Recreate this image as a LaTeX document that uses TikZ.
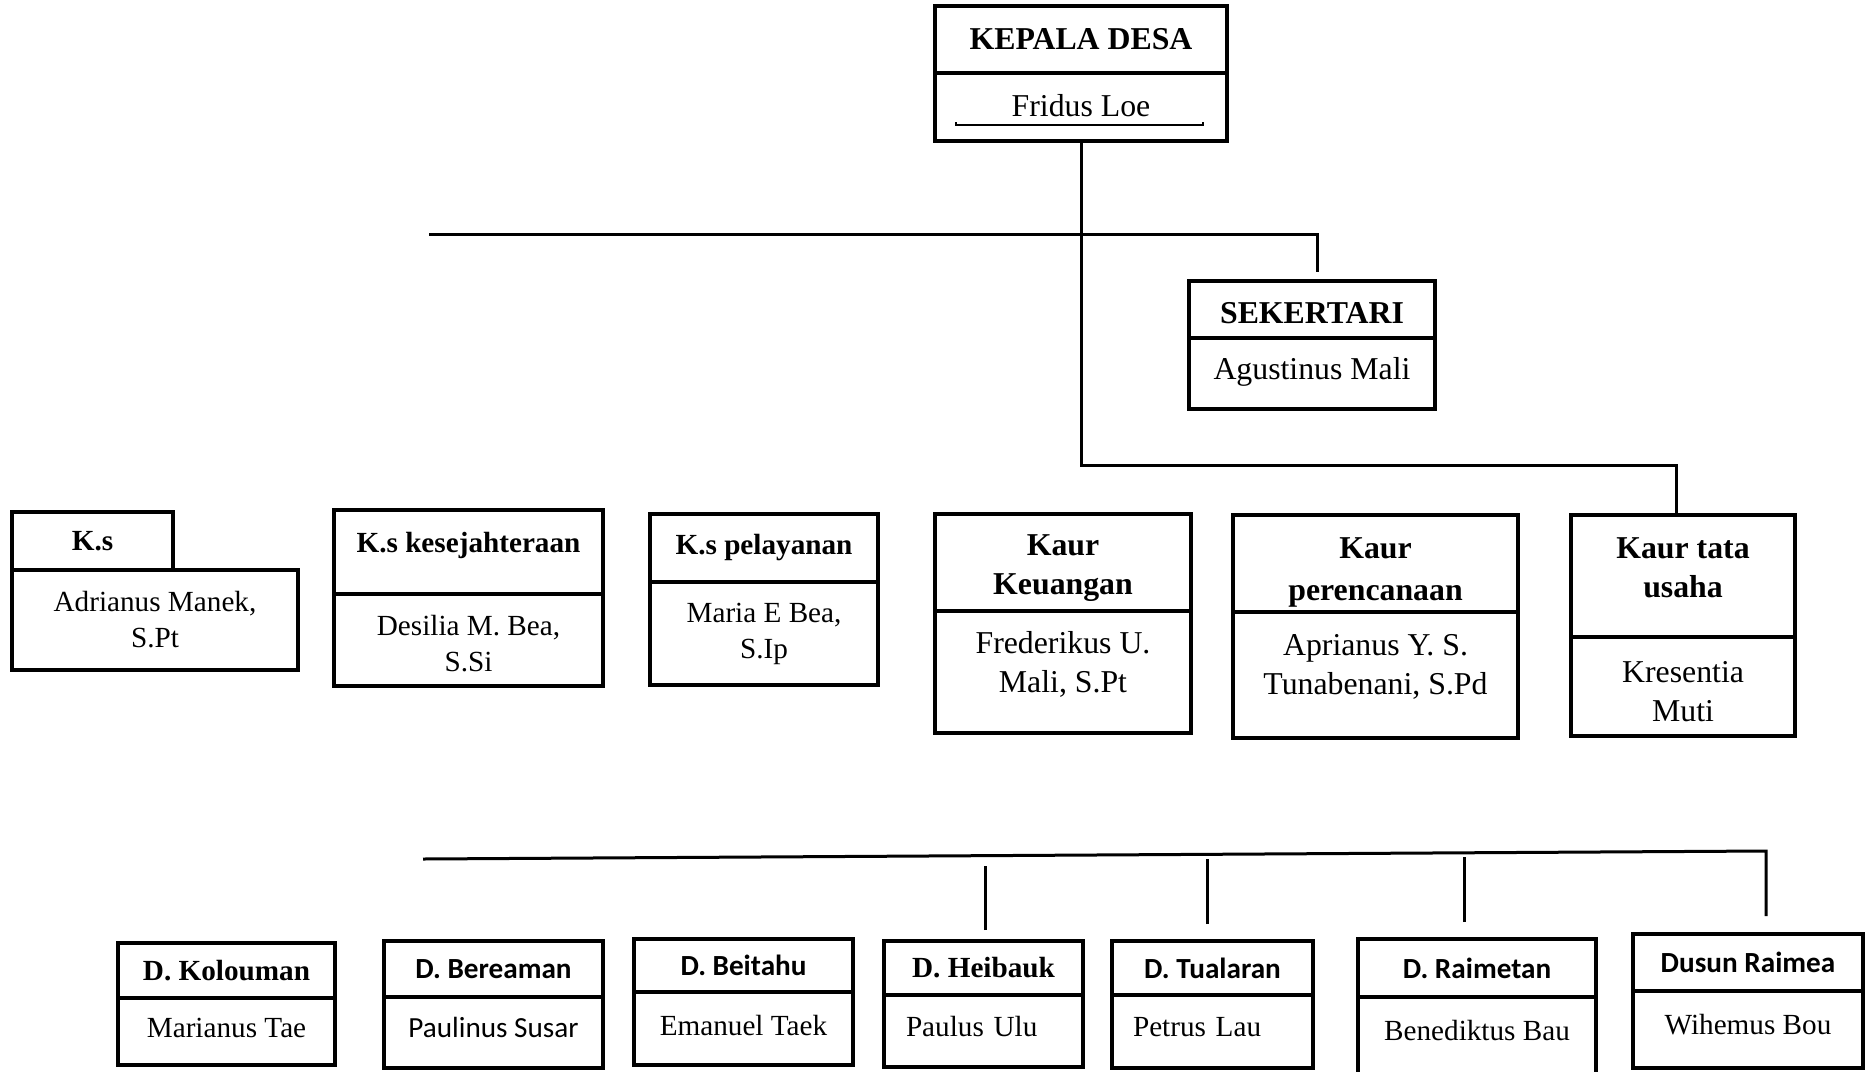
\documentclass[tikz,border=0pt]{standalone}
\usepackage{fontspec}
\setmainfont{Liberation Serif}
\newfontfamily\calibri{Carlito}
\newcommand{\bigtxt}{\fontsize{31.8}{39}\selectfont}
\newcommand{\smalltxt}{\fontsize{29.2}{36}\selectfont}
% invisible struts to move text up (lift) or down (drop) in a cell
\newcommand{\lift}[1]{\rule[-#1pt]{0pt}{#1pt}}
\newcommand{\drop}[1]{\rule{0pt}{#1pt}}
\tikzset{
  cell/.style={draw, line width=3.5pt, anchor=north west, inner sep=0pt, outer sep=0pt, align=center},
  bighead/.style={cell, font=\bigtxt\bfseries},
  bigname/.style={cell, font=\bigtxt},
  smallhead/.style={cell, font=\smalltxt\bfseries},
  sanshead/.style={cell, font=\smalltxt\calibri\bfseries},
  smallname/.style={cell, font=\smalltxt},
  link/.style={line width=3pt}
}
\begin{document}
\begin{tikzpicture}[x=1pt, y=-1pt]
    \useasboundingbox (0,0) rectangle (1870,1071);

    % kepala desa and sekertari
    \node[bighead, minimum width=292, minimum height=67] (kdT) at (935,6) {KEPALA DESA};
    \node[bigname, minimum width=292, minimum height=68] (kdB) at (kdT.south west) {Fridus Loe\lift{4}};
    \draw[line width=1.5pt] ([shift={(21pt,19pt)}]kdB.south west) -- ++(0pt,-3pt) -- ++(247pt,0pt) -- ++(0pt,3pt);

    \node[bighead, minimum width=246, minimum height=57] (skT) at (1189,281) {\drop{29}SEKERTARI};
    \node[bigname, minimum width=246, minimum height=71] (skB) at (skT.south west) {Agustinus Mali\lift{11}};

    % kepala seksi
    \node[smallhead, minimum width=161, minimum height=58] (ks1T) at (12,512) {K.s};
    \node[smallname, minimum width=286, minimum height=100] (ks1B) at (ks1T.south west) {Adrianus Manek,\\S.Pt};

    \node[smallhead, minimum width=269, minimum height=84] (ks2T) at (334,510) {K.s kesejahteraan\lift{19}};
    \node[smallname, minimum width=269, minimum height=92] (ks2B) at (ks2T.south west) {\drop{28}Desilia M. Bea,\\S.Si};

    \node[smallhead, minimum width=228, minimum height=68] (ks3T) at (650,514) {K.s pelayanan};
    \node[smallname, minimum width=228, minimum height=103] (ks3B) at (ks3T.south west) {Maria E Bea,\\S.Ip};

    % kepala urusan
    \node[bighead, minimum width=256, minimum height=97] (kuT) at (935,514) {\drop{32}Kaur\\Keuangan};
    \node[bigname, minimum width=256, minimum height=122] (kuB) at (kuT.south west) {Frederikus U.\\Mali, S.Pt\lift{20}};

    \node[bighead, minimum width=285, minimum height=97] (kpT) at (1233,515) {\drop{39}Kaur\\[3pt]perencanaan};
    \node[bigname, minimum width=285, minimum height=126] (kpB) at (kpT.south west) {Aprianus Y. S.\\Tunabenani, S.Pd\lift{21}};

    \node[bighead, minimum width=224, minimum height=122] (ktT) at (1571,515) {Kaur tata\\usaha\lift{17}};
    \node[bigname, minimum width=224, minimum height=99] (ktB) at (ktT.south west) {\drop{31}Kresentia\\Muti};

    % dusun
    \node[smallhead, minimum width=217, minimum height=55] (d1T) at (118,943) {D. Kolouman};
    \node[smallname, minimum width=217, minimum height=67] (d1B) at (d1T.south west) {Marianus Tae\lift{7}};

    \node[sanshead, minimum width=219, minimum height=56] (d2T) at (384,941) {D. Bereaman};
    \node[smallname, font=\smalltxt\calibri, minimum width=219, minimum height=71] (d2B) at (d2T.south west) {Paulinus Susar\lift{11}};

    \node[sanshead, minimum width=219, minimum height=53] (d3T) at (634,939) {D. Beitahu};
    \node[smallname, minimum width=219, minimum height=73] (d3B) at (d3T.south west) {Emanuel Taek\lift{6}};

    \node[smallhead, minimum width=199, minimum height=54] (d4T) at (884,941) {D. Heibauk};
    \node[smallname, align=left, text width=155pt, inner xsep=22pt, minimum height=72] (d4B) at (d4T.south west) {Paulus Ulu\lift{9}};

    \node[sanshead, minimum width=201, minimum height=54] (d5T) at (1112,941) {D. Tualaran};
    \node[smallname, align=left, text width=159pt, inner xsep=21pt, minimum height=73] (d5B) at (d5T.south west) {Petrus Lau\lift{9}};

    \node[sanshead, minimum width=238, minimum height=58] (d6T) at (1358,939) {D. Raimetan};
    \node[smallname, minimum width=238, minimum height=81] (d6B) at (d6T.south west) {Benediktus Bau\lift{14}};

    \node[sanshead, minimum width=230, minimum height=57] (d7T) at (1633,934) {Dusun Raimea};
    \node[smallname, minimum width=230, minimum height=77] (d7B) at (d7T.south west) {Wihemus Bou\lift{11}};

    % connectors
    \coordinate (upL) at (429,234);
    \coordinate (mid) at (kdB.south |- 0,465);
    \coordinate (lowL) at (423,859);
    \coordinate (lowR) at (1766,851);

    \draw[link] (kdB.south) -- (mid) -| ([xshift=-7pt]ktT.north);
    \draw[link] (upL) -| ([xshift=5pt,yshift=9pt]skT.north);
    \draw[link] (lowL) -- (lowR) -- ([xshift=18pt,yshift=18pt]d7T.north);
    \draw[link] ([xshift=1.5pt,yshift=11pt]d4T.north) -- ++(0pt,64pt);
    \draw[link] ([xshift=-5pt,yshift=17pt]d5T.north) -- ++(0pt,65pt);
    \draw[link] ([xshift=-13pt,yshift=17pt]d6T.north) -- ++(0pt,65pt);
\end{tikzpicture}
\end{document}
